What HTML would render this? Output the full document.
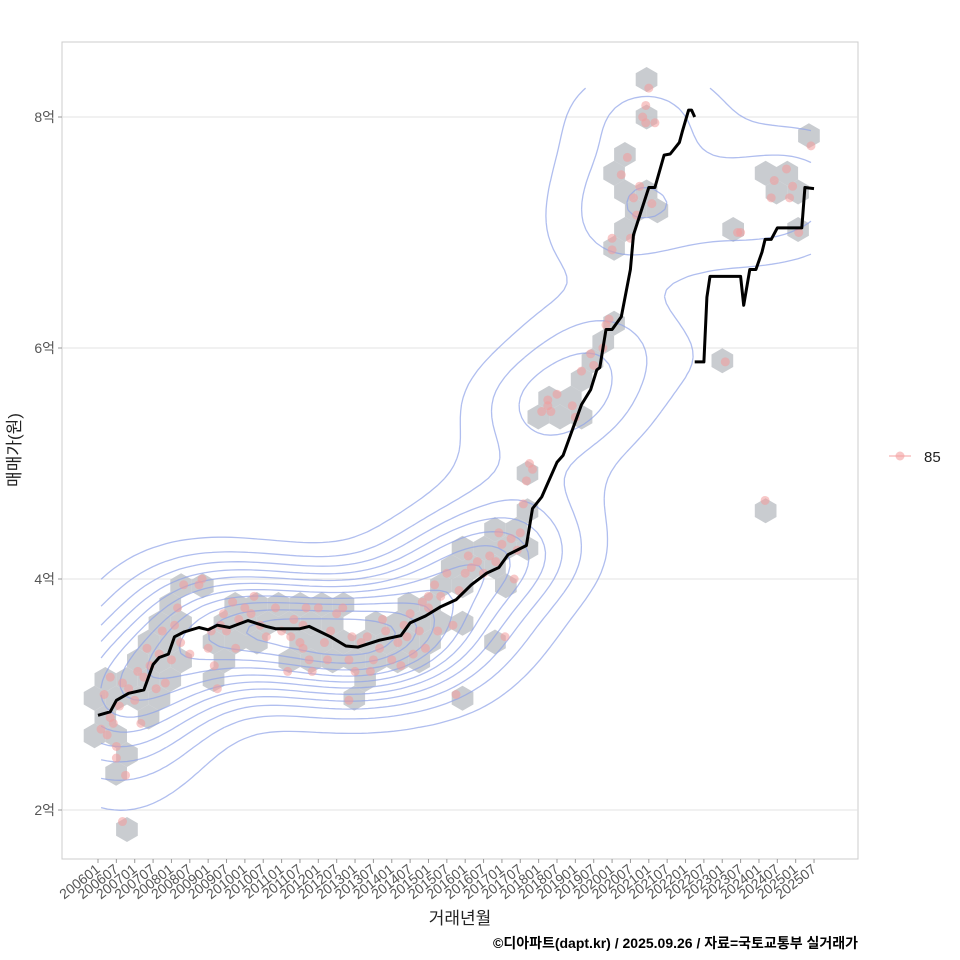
<!DOCTYPE html>
<html><head><meta charset="utf-8">
<style>
html,body{margin:0;padding:0;background:#fff;}
svg{display:block;font-family:"Liberation Sans","Noto Sans CJK KR",sans-serif;}
</style></head>
<body>
<svg id="chart" width="960" height="960" viewBox="0 0 960 960" xmlns="http://www.w3.org/2000/svg">
<rect x="0" y="0" width="960" height="960" fill="#fff"/>
<rect x="62" y="42" width="796" height="817" fill="#fff" stroke="#ccc" stroke-width="1"/>
<g id="grid"></g>
<g id="hex"></g>
<g id="contours"></g>
<g id="pts"></g>
<g id="line"></g>
<g id="yaxis"></g>
<g id="xaxis"></g>
<text x="20" y="450" transform="rotate(-90 20 450)" text-anchor="middle" font-size="17" fill="#222">매매가(원)</text>
<text x="460" y="924" text-anchor="middle" font-size="17" fill="#222">거래년월</text>
<text x="858" y="948" text-anchor="end" font-size="14" font-weight="bold" fill="#000">©디아파트(dapt.kr) / 2025.09.26 / 자료=국토교통부 실거래가</text>
<g>
<line x1="889" y1="456" x2="911" y2="456" stroke="#f4a0a0" stroke-width="1"/>
<circle cx="900" cy="456" r="4.5" fill="#f4a0a0" fill-opacity="0.6"/>
<text x="924" y="462" font-size="15" fill="#222">85</text>
</g>
</svg>
<script>
// ---- data ----
const yTicks = [2, 4, 6, 8];
const yTickLabels = ["2억", "4억", "6억", "8억"];
const xTickLabels = [];
for (let y = 2006; y <= 2025; y++) { xTickLabels.push(y + "01"); xTickLabels.push(y + "07"); }
const ptMonths = [1,2,3,4,4,5,6,6,7,8,9,8,10,12,13,14,15,16,17,19,20,21,22,24,25,26,27,28,30,33,34,36,37,38,39,40,41,42,44,45,46,48,50,51,53,55,58,60,62,63,64,66,67,67,68,69,70,72,74,75,76,78,80,82,82,83,84,86,88,89,90,92,93,94,96,98,99,100,101,102,103,105,106,107,108,108,110,111,112,114,116,117,118,120,121,122,124,126,128,130,131,132,133,135,136,137,138,139,140,141,142,145,147,147,148,150,155,156,158,161,162,165,166,167,168,168,171,173,174,175,176,177,178,179,179,180,181,182,205,209,210,218,220,221,225,226,227,229,233];
const ptValues = [2.7,3.0,2.65,3.15,2.8,2.75,2.55,2.45,2.9,3.1,2.3,1.9,3.05,2.95,3.2,2.75,3.15,3.4,3.25,3.05,3.35,3.55,3.1,3.3,3.6,3.75,3.45,3.95,3.35,3.95,4.0,3.4,3.55,3.25,3.05,3.6,3.7,3.55,3.8,3.4,3.65,3.75,3.7,3.85,3.6,3.5,3.75,3.55,3.2,3.5,3.65,3.45,3.4,3.6,3.75,3.3,3.2,3.75,3.45,3.3,3.55,3.7,3.75,3.3,2.95,3.5,3.2,3.45,3.5,3.2,3.3,3.4,3.65,3.55,3.3,3.45,3.25,3.6,3.5,3.7,3.35,3.55,3.8,3.4,3.75,3.85,3.95,3.55,3.85,4.05,3.6,3.0,3.9,4.05,4.2,4.1,4.15,4.05,4.2,4.15,4.4,4.3,3.5,4.35,4.0,4.25,4.4,4.65,4.85,5.0,4.95,5.45,5.55,5.5,5.45,5.6,5.5,5.4,5.8,5.95,5.85,6.0,6.2,6.25,6.95,6.85,7.5,7.65,6.95,7.3,7.15,7.4,8.0,8.1,7.95,8.25,7.25,7.95,5.88,7.0,7.0,4.68,7.3,7.45,7.55,7.3,7.4,7.0,7.75];
const lineMonths = [0,4,6,10,15,18,20,23,25,28,33,36,39,43,46,49,55,58,66,69,76,81,85,92,99,102,107,112,117,122,127,131,134,140,142,145,147,150,152,158,161,163,164,166,168,171,174,175,180,182,185,187,190,191,193,194,195,null,195,198,199,200,210,211,213,215,217,218,220,222,224,230,231,234];
const lineValues = [2.82,2.85,2.95,3.01,3.04,3.26,3.32,3.35,3.50,3.54,3.58,3.56,3.60,3.58,3.61,3.64,3.59,3.57,3.57,3.59,3.50,3.42,3.41,3.47,3.51,3.62,3.68,3.76,3.82,3.95,4.05,4.10,4.21,4.29,4.61,4.71,4.83,5.01,5.07,5.51,5.64,5.81,5.83,6.16,6.16,6.27,6.68,6.98,7.39,7.39,7.67,7.68,7.78,7.88,8.06,8.06,8.00,null,5.88,5.88,6.44,6.62,6.62,6.37,6.68,6.68,6.83,6.94,6.94,7.04,7.04,7.04,7.39,7.38];

// ---- scales ----
const NS = "http://www.w3.org/2000/svg";
const xS = m => 98 + m * 3.06;
const yS = v => 810 - (v - 2) * 115.5;
function mk(tag, attrs, parent) {
  const e = document.createElementNS(NS, tag);
  for (const k in attrs) e.setAttribute(k, attrs[k]);
  parent.appendChild(e); return e;
}
const G = id => document.getElementById(id);

// grid + y axis
yTicks.forEach((v, i) => {
  const g = mk("line", {x1: 62, x2: 858, y1: yS(v), y2: yS(v), stroke: "#e3e3e3", "stroke-width": 1}, G("grid"));
  
  
  const t = mk("line", {x1: 58, x2: 62, y1: yS(v), y2: yS(v), stroke: "#999"}, G("yaxis"));
  
  
  const l = mk("text", {x: 55, y: yS(v) + 5, "text-anchor": "end", "font-size": 14, fill: "#555"}, G("yaxis"));
  
  
  l.textContent = yTickLabels[i];
});
// x axis
xTickLabels.forEach((s, i) => {
  const x = xS(i * 6);
  const t = mk("line", {x1: x, x2: x, y1: 859, y2: 863, stroke: "#999"}, G("xaxis"));
  
  
  const l = mk("text", {x: x + 3, y: 871, "text-anchor": "end", "font-size": 14, fill: "#555", transform: `rotate(-38 ${x + 3} 871)`}, G("xaxis"));
  
  
  l.textContent = s;
});

// hexbins (pointy-top)
const R = 12.5, HW = R * Math.sqrt(3), HV = R * 1.5;
const bins = {};
ptMonths.forEach((m, i) => {
  const px = xS(m), py = yS(ptValues[i]);
  let best = null, bd = 1e9;
  const r0 = Math.round((py - 42) / HV);
  for (let r = r0 - 1; r <= r0 + 1; r++) {
    const off = (r & 1) ? HW / 2 : 0;
    const c0 = Math.round((px - 62 - off) / HW);
    for (let c = c0 - 1; c <= c0 + 1; c++) {
      const cx = 62 + off + c * HW, cy = 42 + r * HV;
      const d = (cx - px) ** 2 + (cy - py) ** 2;
      if (d < bd) { bd = d; best = [cx, cy]; }
    }
  }
  bins[best[0].toFixed(2) + "," + best[1].toFixed(2)] = best;
});
Object.values(bins).forEach(([cx, cy]) => {
  let p = "";
  for (let k = 0; k < 6; k++) { const a = Math.PI / 180 * (60 * k - 90); p += (cx + R * Math.cos(a)).toFixed(1) + "," + (cy + R * Math.sin(a)).toFixed(1) + " "; }
  const h = mk("polygon", {points: p, fill: "#bfc3c8", "fill-opacity": 0.85}, G("hex"));
  
  
});

// KDE contours
(function () {
  const xs = ptMonths.map(xS), ys = ptValues.map(yS);
  const x0 = Math.min(...xs), x1 = Math.max(...xs), y0 = Math.min(...ys), y1 = Math.max(...ys);
  const NX = 110, NY = 110, sx = 58, sy = 34;
  const gx = [], gy = [];
  for (let i = 0; i < NX; i++) gx.push(x0 + (x1 - x0) * i / (NX - 1));
  for (let j = 0; j < NY; j++) gy.push(y0 + (y1 - y0) * j / (NY - 1));
  const D = []; let mx = 0;
  for (let j = 0; j < NY; j++) { D.push([]); for (let i = 0; i < NX; i++) {
    let s = 0; for (let k = 0; k < xs.length; k++) { const dx = (gx[i] - xs[k]) / sx, dy = (gy[j] - ys[k]) / sy; s += Math.exp(-0.5 * (dx * dx + dy * dy)); }
    D[j].push(s); if (s > mx) mx = s; } }
  let path = "";
  for (let L = 1; L <= 11; L++) {
    const lv = mx * L / 12;
    for (let j = 0; j < NY - 1; j++) for (let i = 0; i < NX - 1; i++) {
      const a = D[j][i], b = D[j][i + 1], c = D[j + 1][i + 1], d = D[j + 1][i];
      const pts = [];
      const e = (v1, v2, p1, p2) => { const t = (lv - v1) / (v2 - v1); return [p1[0] + (p2[0] - p1[0]) * t, p1[1] + (p2[1] - p1[1]) * t]; };
      const A = [gx[i], gy[j]], B = [gx[i + 1], gy[j]], C = [gx[i + 1], gy[j + 1]], Dd = [gx[i], gy[j + 1]];
      if ((a > lv) !== (b > lv)) pts.push(e(a, b, A, B));
      if ((b > lv) !== (c > lv)) pts.push(e(b, c, B, C));
      if ((c > lv) !== (d > lv)) pts.push(e(c, d, C, Dd));
      if ((d > lv) !== (a > lv)) pts.push(e(d, a, Dd, A));
      for (let q = 0; q + 1 < pts.length; q += 2)
        path += `M${pts[q][0].toFixed(1)},${pts[q][1].toFixed(1)}L${pts[q + 1][0].toFixed(1)},${pts[q + 1][1].toFixed(1)}`;
    }
  }
  const p = mk("path", {d: path, fill: "none", stroke: "#8fa3e8", "stroke-opacity": 0.7, "stroke-width": 1.3}, G("contours"));
  
  
})();

// points
ptMonths.forEach((m, i) => {
  const c = mk("circle", {cx: xS(m), cy: yS(ptValues[i]), r: 4.5, fill: "#f29a9a", "fill-opacity": 0.55}, G("pts"));
  
  
});

// trend line
let d = "", pen = false;
lineMonths.forEach((m, i) => {
  if (m === null) { pen = false; return; }
  d += (pen ? "L" : "M") + xS(m).toFixed(1) + "," + yS(lineValues[i]).toFixed(1);
  pen = true;
});
const ln = mk("path", {d: d, fill: "none", stroke: "#000", "stroke-width": 3, "stroke-linejoin": "round"}, G("line"));


</script>
</body></html>
